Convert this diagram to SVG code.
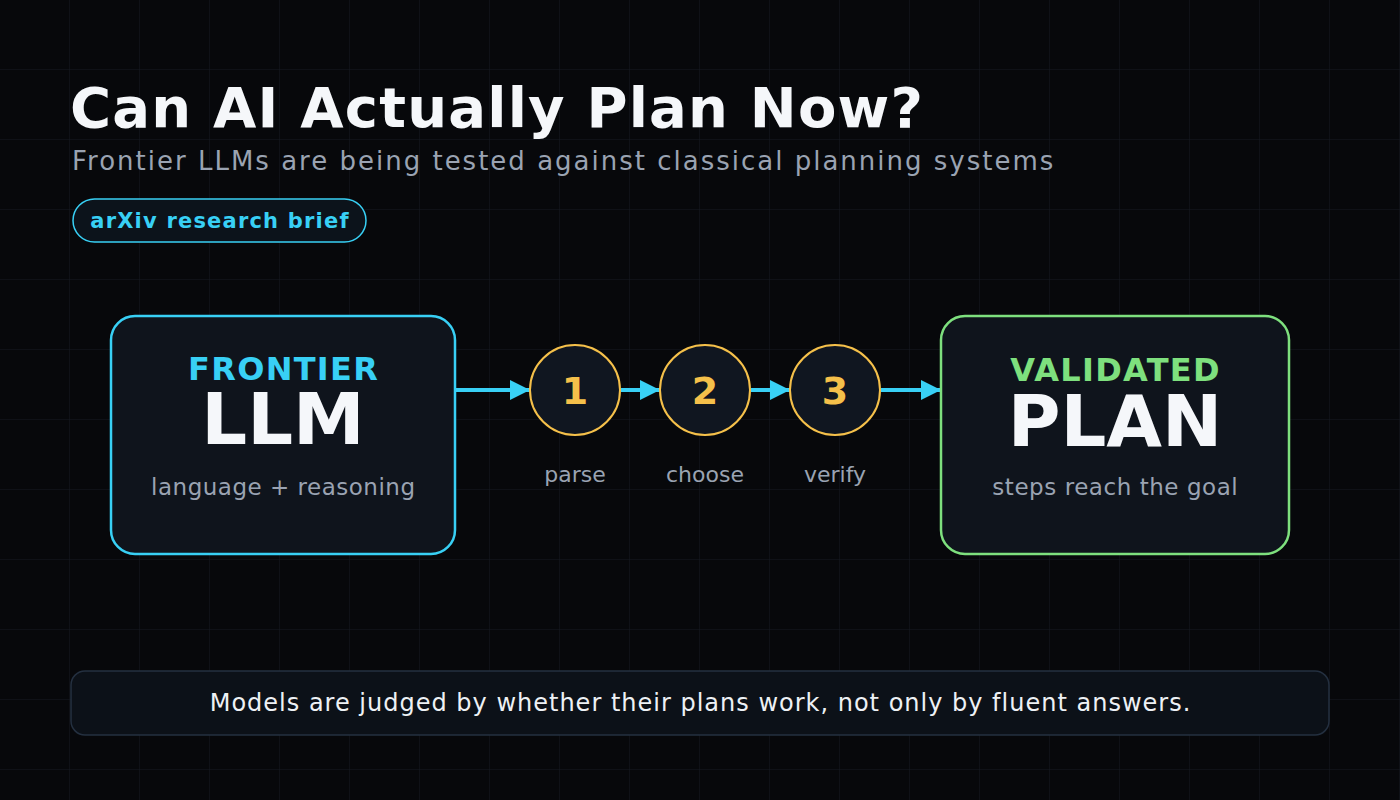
<svg xmlns="http://www.w3.org/2000/svg" width="1400" height="800" viewBox="0 0 1400 800">
<defs>
<pattern id="grid" width="70" height="70" patternUnits="userSpaceOnUse"><path d="M70 0V70H0" fill="none" stroke="#161a21" stroke-width="1"/></pattern>
<marker id="ah" viewBox="0 0 10 10" refX="10" refY="5" markerWidth="20" markerHeight="20" markerUnits="userSpaceOnUse" orient="auto"><path d="M0 0L10 5L0 10Z" fill="#38d0f5"/></marker>
</defs>
<style>
text{font-family:"DejaVu Sans","Liberation Sans",sans-serif}
.b{font-weight:bold}
.sub{fill:#9aa3b2}
.step{fill:#101620;stroke:#f5c04a;stroke-width:2}
.num{fill:#f5c04a;font-size:38px;font-weight:bold}
.lbl{fill:#9aa3b2;font-size:22px}
.con{stroke:#38d0f5;stroke-width:4;fill:none;marker-end:url(#ah)}
</style>
<rect width="1400" height="800" fill="#07080b"/>
<rect width="1400" height="800" fill="url(#grid)"/>
<g id="header">
<text x="70" y="127" class="b" font-size="56" letter-spacing="1.2" fill="#f5f7fa">Can AI Actually Plan Now?</text>
<text x="72" y="170" font-size="26" letter-spacing="2" class="sub">Frontier LLMs are being tested against classical planning systems</text>
<rect x="73" y="199" width="293" height="43" rx="21.5" fill="#0c131b" stroke="#38d0f5" stroke-width="1.5"/>
<text x="220" y="228" text-anchor="middle" class="b" font-size="21" letter-spacing="1.2" fill="#38d0f5">arXiv research brief</text>
</g>
<g id="connectors">
<line x1="456" y1="390" x2="530" y2="390" class="con"/>
<line x1="621" y1="390" x2="660" y2="390" class="con"/>
<line x1="751" y1="390" x2="790" y2="390" class="con"/>
<line x1="881" y1="390" x2="941" y2="390" class="con"/>
</g>
<g id="llm">
<rect x="111" y="316" width="344" height="238" rx="24" fill="#0f141c" stroke="#38d0f5" stroke-width="2.5"/>
<text x="283.6" y="380" text-anchor="middle" class="b" font-size="32" letter-spacing="1.3" fill="#38d0f5">FRONTIER</text>
<text x="283" y="444" text-anchor="middle" class="b" font-size="72" fill="#f5f7fa">LLM</text>
<text x="283.3" y="495" text-anchor="middle" font-size="23" letter-spacing="0.5" class="sub">language + reasoning</text>
</g>
<g id="step1"><circle cx="575" cy="390" r="45" class="step"/><text x="575" y="404" text-anchor="middle" class="num">1</text><text x="575" y="482" text-anchor="middle" class="lbl">parse</text></g>
<g id="step2"><circle cx="705" cy="390" r="45" class="step"/><text x="705" y="404" text-anchor="middle" class="num">2</text><text x="705" y="482" text-anchor="middle" class="lbl">choose</text></g>
<g id="step3"><circle cx="835" cy="390" r="45" class="step"/><text x="835" y="404" text-anchor="middle" class="num">3</text><text x="835" y="482" text-anchor="middle" class="lbl">verify</text></g>
<g id="plan">
<rect x="941" y="316" width="348" height="238" rx="24" fill="#0f141c" stroke="#7ee07e" stroke-width="2.5"/>
<text x="1115.6" y="381" text-anchor="middle" class="b" font-size="32" letter-spacing="1.3" fill="#7ee07e">VALIDATED</text>
<text x="1115" y="446" text-anchor="middle" class="b" font-size="72" fill="#f5f7fa">PLAN</text>
<text x="1115.3" y="495" text-anchor="middle" font-size="23" letter-spacing="0.55" class="sub">steps reach the goal</text>
</g>
<g id="footer">
<rect x="71" y="671" width="1258" height="64" rx="14" fill="#0c1118" stroke="#243040" stroke-width="1.5"/>
<text x="700.5" y="711" text-anchor="middle" font-size="24" letter-spacing="1" fill="#eef1f5">Models are judged by whether their plans work, not only by fluent answers.</text>
</g>
</svg>
